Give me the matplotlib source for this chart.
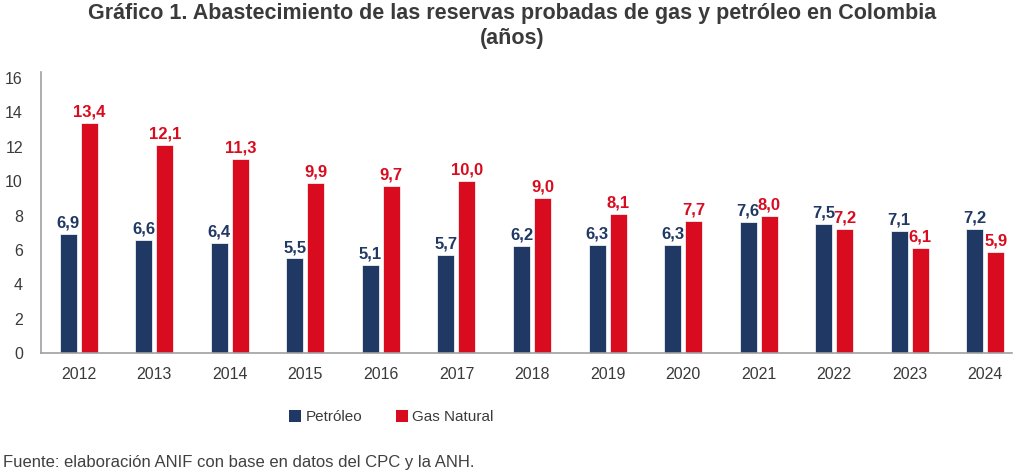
import matplotlib
matplotlib.use("Agg")
import matplotlib.pyplot as plt
from matplotlib import font_manager
from matplotlib.patches import Patch
import numpy as np

years = ["2012", "2013", "2014", "2015", "2016", "2017", "2018", "2019", "2020", "2021", "2022", "2023", "2024"]
petroleo = [6.9, 6.6, 6.4, 5.5, 5.1, 5.7, 6.2, 6.3, 6.3, 7.6, 7.5, 7.1, 7.2]
gas = [13.4, 12.1, 11.3, 9.9, 9.7, 10.0, 9.0, 8.1, 7.7, 8.0, 7.2, 6.1, 5.9]
yticks = [0, 2, 4, 6, 8, 10, 12, 14, 16]

names = {f.name for f in font_manager.fontManager.ttflist}
narrow = "Liberation Sans Narrow" if "Liberation Sans Narrow" in names else "Liberation Sans"
plt.rcParams['font.family'] = [narrow, 'DejaVu Sans']

c_pet = "#203864"
c_gas = "#D90B1F"
txt = "#3a3a3a"

fig = plt.figure(figsize=(10.24, 4.74), dpi=100)
ax = fig.add_axes([0.040, 0.2553, 0.948, 0.5927])

x = np.arange(len(years))
w = 0.225
gap = 0.052
b1 = ax.bar(x - w / 2 - gap / 2, petroleo, w, color=c_pet, edgecolor="white", linewidth=0.5, label="Petróleo")
b2 = ax.bar(x + w / 2 + gap / 2, gas, w, color=c_gas, edgecolor="white", linewidth=0.5, label="Gas Natural")

for bars, vals, col in ((b1, petroleo, c_pet), (b2, gas, c_gas)):
    for r, v in zip(bars, vals):
        ax.annotate(f"{v:.1f}".replace(".", ","), (r.get_x() + r.get_width() / 2, v),
                    xytext=(0, 2.5), textcoords="offset points", ha="center", va="bottom",
                    color=col, fontsize=12, fontweight="bold", family=[narrow, 'DejaVu Sans'])

ax.set_xlim(-0.5, 12.35)
ax.set_ylim(0, 16.35)
ax.set_yticks(yticks)
ax.set_yticklabels([str(t) for t in yticks], fontsize=11.5, color=txt)
ax.set_xticks(x)
ax.set_xticklabels(years, fontsize=11.5, color=txt)
ax.tick_params(axis="both", length=0)
ax.tick_params(axis="y", pad=13)
ax.tick_params(axis="x", pad=10)
for s in ("top", "right"):
    ax.spines[s].set_visible(False)
for s in ("left", "bottom"):
    ax.spines[s].set_color("#a0a0a0")
    ax.spines[s].set_linewidth(1.2)

fig.text(0.5, 0.993, "Gráfico 1. Abastecimiento de las reservas probadas de gas y petróleo en Colombia\n(años)",
         ha="center", va="top", fontsize=15.5, fontweight="bold", color=txt, linespacing=1.2)

handles = [Patch(facecolor=c_pet, label="Petróleo"), Patch(facecolor=c_gas, label="Gas Natural")]
fig.legend(handles=handles, loc="center", bbox_to_anchor=(0.382, 0.12), ncol=2, frameon=False,
           fontsize=11, handlelength=0.8, handleheight=0.8, handletextpad=0.3, columnspacing=2.2,
           labelcolor=txt)

fig.text(0.003, 0.025, "Fuente: elaboración ANIF con base en datos del CPC y la ANH.", ha="left", va="center",
         fontsize=12, color="#404040")

fig.savefig("out.png", dpi=100)
